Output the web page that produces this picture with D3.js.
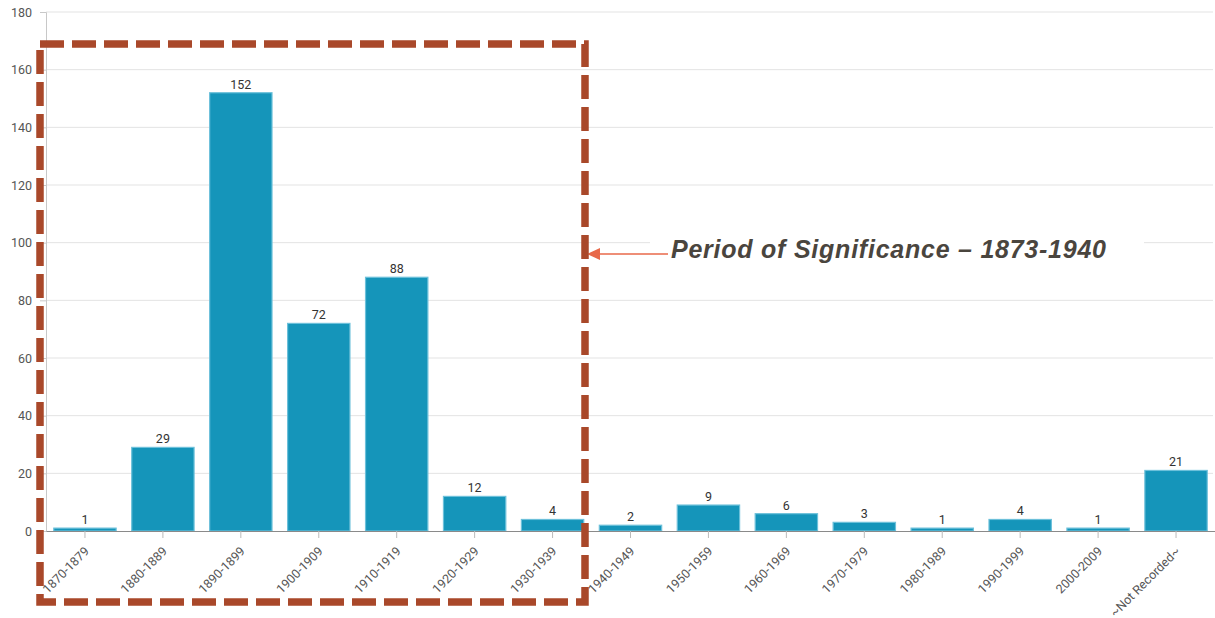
<!DOCTYPE html>
<html>
<head>
<meta charset="utf-8">
<script src="https://cdn.jsdelivr.net/npm/d3@7"></script>
<style>
  html, body { margin: 0; padding: 0; background: #fff; }
  svg { display: block; }
</style>
</head>
<body>
<svg id="chart" width="1215" height="618"></svg>
<script>
// Construction decades and the number of buildings in each
const decades = ["1870-1879", "1880-1889", "1890-1899", "1900-1909", "1910-1919",
  "1920-1929", "1930-1939", "1940-1949", "1950-1959", "1960-1969", "1970-1979",
  "1980-1989", "1990-1999", "2000-2009", "~Not Recorded~"];
const counts = [1, 29, 152, 72, 88, 12, 4, 2, 9, 6, 3, 1, 4, 1, 21];
const yTicks = [0, 20, 40, 60, 80, 100, 120, 140, 160, 180];
const periodLabel = "Period of Significance \u2013 1873-1940";

const W = 1215, H = 618;
const margin = { top: 12, right: 0, bottom: 87, left: 46 };
const svg = d3.select("#chart");

const x = d3.scaleBand().domain(decades).range([margin.left, W - margin.right]).paddingInner(0.2).paddingOuter(0.1);
const y = d3.scaleLinear().domain([0, 180]).range([H - margin.bottom, margin.top]);

const font = "Roboto, 'Open Sans', sans-serif";

// horizontal grid
svg.append("g").selectAll("line").data(yTicks.filter(d => d > 0)).join("line")
  .attr("x1", margin.left).attr("x2", W - 2)
  .attr("y1", d => y(d)).attr("y2", d => y(d))
  .attr("stroke", "#e3e3e3").attr("stroke-width", 1);

// y axis
const yAxis = svg.append("g").attr("transform", `translate(${margin.left},0)`)
  .call(d3.axisLeft(y).tickValues(yTicks).tickSize(6).tickPadding(8));
yAxis.select(".domain").attr("stroke", "#c8c8c8");
yAxis.selectAll(".tick line").attr("stroke", "#c8c8c8");
yAxis.selectAll("text").attr("font-family", font).attr("font-size", 12.5).attr("fill", "#555");

// bars
svg.append("g").selectAll("rect").data(counts).join("rect")
  .attr("x", (d, i) => x(decades[i]))
  .attr("width", x.bandwidth())
  .attr("y", d => y(d))
  .attr("height", d => y(0) - y(d))
  .attr("fill", "#1595BA")
  .attr("stroke", "#6CC0DA")
  .attr("stroke-width", 1.2);

// value labels
svg.append("g").selectAll("text").data(counts).join("text")
  .attr("x", (d, i) => x(decades[i]) + x.bandwidth() / 2)
  .attr("y", d => y(d) - 4)
  .attr("text-anchor", "middle")
  .attr("font-family", font).attr("font-size", 12.5).attr("fill", "#333")
  .text(d => d);

// x axis: ticks from the axis generator, labels drawn slanted at 45 degrees
const xAxis = svg.append("g").attr("transform", `translate(0,${y(0)})`)
  .call(d3.axisBottom(x).tickSize(7).tickSizeOuter(0).tickFormat(""));
xAxis.select(".domain").attr("stroke", "#8a8a8a");
xAxis.selectAll(".tick line").attr("stroke", "#bbb");

svg.append("g").selectAll("text").data(decades).join("text")
  .attr("transform", d => `translate(${x(d) + x.bandwidth() / 2 + 5},${y(0) + 21}) rotate(-45)`)
  .attr("text-anchor", "end")
  .attr("font-family", font).attr("font-size", 12.5).attr("fill", "#555")
  .text(d => d);

// period-of-significance callout: label on a white backing that breaks the grid
svg.append("rect").attr("x", 650).attr("y", 232).attr("width", 494).attr("height", 38).attr("fill", "#fff");
svg.append("text")
  .attr("x", 671).attr("y", 258)
  .attr("font-family", "'Liberation Sans', Arial, sans-serif")
  .attr("font-size", 25).attr("font-weight", "bold").attr("font-style", "italic")
  .attr("textLength", 435).attr("lengthAdjust", "spacing")
  .attr("fill", "#4a453e")
  .text(periodLabel);

svg.append("line").attr("x1", 668).attr("x2", 598).attr("y1", 254).attr("y2", 254)
  .attr("stroke", "#E8694A").attr("stroke-width", 1.5);
svg.append("path").attr("d", "M587,254 L600,248 L600,260 Z").attr("fill", "#E8694A");

// dashed frame around the period of significance
svg.append("rect")
  .attr("x", 40).attr("y", 44).attr("width", 545).attr("height", 558)
  .attr("fill", "none").attr("stroke", "#A9482A").attr("stroke-width", 7.5)
  .attr("stroke-dasharray", "24 8");
</script>
</body>
</html>
